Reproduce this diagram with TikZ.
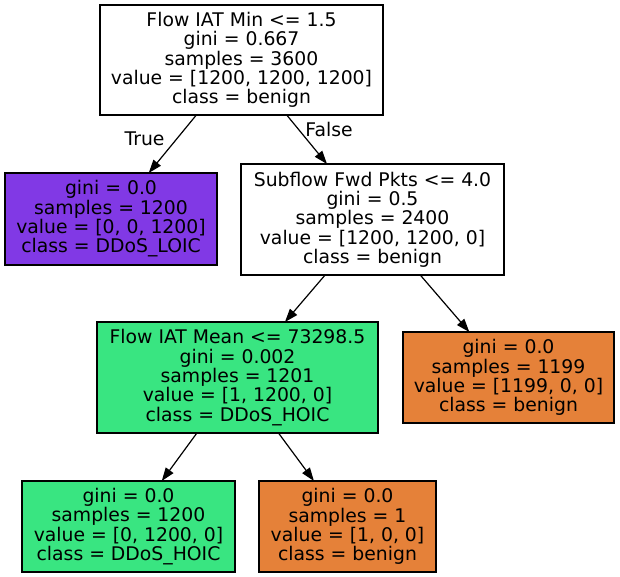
\documentclass[tikz,border=0pt]{standalone}
\usepackage{fontspec}
\setmainfont{DejaVu Sans}
\usetikzlibrary{arrows.meta}
\definecolor{purp}{HTML}{8139E5}
\definecolor{grn}{HTML}{39E581}
\definecolor{orng}{HTML}{E58139}
\tikzset{
  treenode/.style={draw=black, line width=1pt, rectangle, inner sep=0pt, outer sep=0pt,
    align=center, font=\fontsize{14.1}{14.5}\selectfont},
  edgelab/.style={font=\fontsize{14.1}{14.5}\selectfont, inner sep=0pt},
  treeedge/.style={line width=0.9pt, -{Triangle[length=10pt,width=7pt]}}
}
\begin{document}
\begin{tikzpicture}[x=0.75pt,y=-0.75pt]
\useasboundingbox (0,0) rectangle (620,577);
\fill[white] (0,0) rectangle (620,577);
\node[treenode, fill=white, minimum width=212.25pt, minimum height=82.5pt] (n0) at (241.5,60)
  {Flow IAT Min <= 1.5\\gini = 0.667\\samples = 3600\\value = [1200, 1200, 1200]\\class = benign};
\node[treenode, fill=purp, minimum width=159pt, minimum height=69pt] (n1) at (111,219)
  {gini = 0.0\\samples = 1200\\value = [0, 0, 1200]\\class = DDoS\_LOIC};
\node[treenode, fill=white, minimum width=197.25pt, minimum height=83.25pt] (n2) at (372.5,219.5)
  {Subflow Fwd Pkts <= 4.0\\gini = 0.5\\samples = 2400\\value = [1200, 1200, 0]\\class = benign};
\node[treenode, fill=grn, minimum width=210.75pt, minimum height=83.25pt] (n3) at (237.5,377.5)
  {Flow IAT Mean <= 73298.5\\gini = 0.002\\samples = 1201\\value = [1, 1200, 0]\\class = DDoS\_HOIC};
\node[treenode, fill=orng, minimum width=158.25pt, minimum height=68.25pt] (n4) at (508.5,377.5)
  {gini = 0.0\\samples = 1199\\value = [1199, 0, 0]\\class = benign};
\node[treenode, fill=grn, minimum width=159.75pt, minimum height=68.25pt] (n5) at (128.5,526.5)
  {gini = 0.0\\samples = 1200\\value = [0, 1200, 0]\\class = DDoS\_HOIC};
\node[treenode, fill=orng, minimum width=132.75pt, minimum height=68.25pt] (n6) at (347.5,526.5)
  {gini = 0.0\\samples = 1\\value = [1, 0, 0]\\class = benign};
\draw[treeedge] (n0) -- (n1);
\draw[treeedge] (n0) -- (n2);
\draw[treeedge] (n2) -- (n3);
\draw[treeedge] (n2) -- (n4);
\draw[treeedge] (n3) -- (n5);
\draw[treeedge] (n3) -- (n6);
\node[edgelab] (ltrue) at (144.5,138.5) {True};
\node[edgelab] (lfalse) at (329,129) {False};
\end{tikzpicture}
\end{document}
